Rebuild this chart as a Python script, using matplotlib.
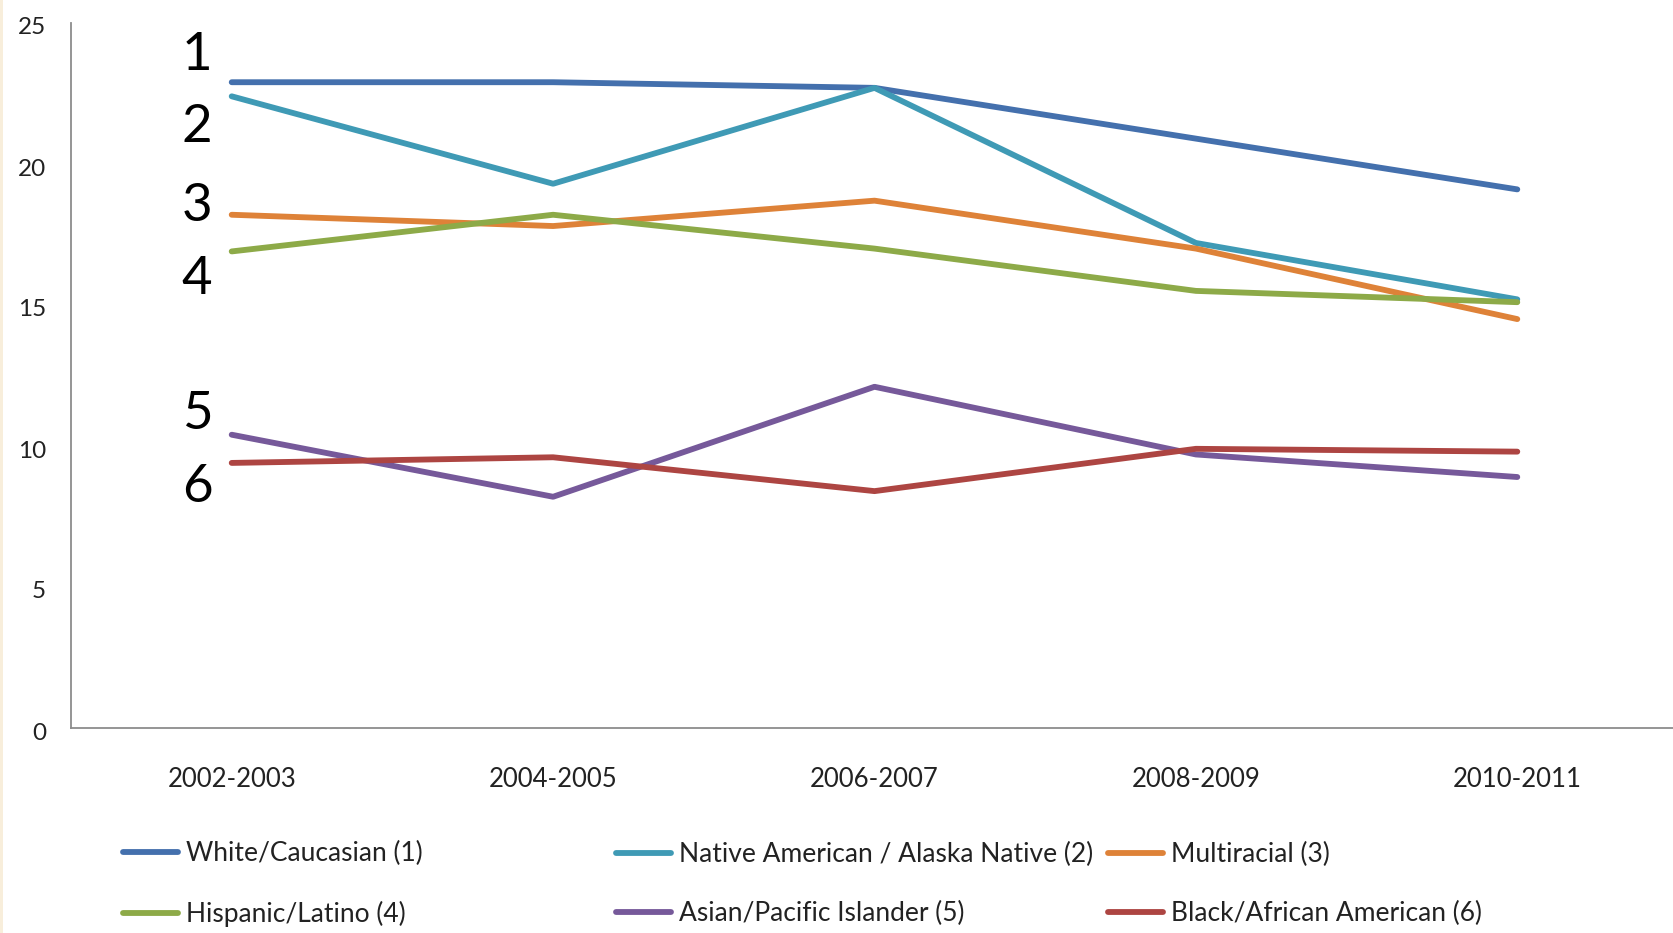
import matplotlib
matplotlib.use("Agg")
import matplotlib.pyplot as plt
import matplotlib.transforms as mtransforms
from matplotlib.patches import Rectangle

plt.rcParams['font.family'] = ['Lato', 'DejaVu Sans']

# Survey periods and values per group
periods = ["2002-2003", "2004-2005", "2006-2007", "2008-2009", "2010-2011"]
white = [22.9, 22.9, 22.7, 20.9, 19.1]
native = [22.4, 19.3, 22.7, 17.2, 15.2]
multiracial = [18.2, 17.8, 18.7, 17.0, 14.5]
hispanic = [16.9, 18.2, 17.0, 15.5, 15.1]
asian = [10.4, 8.2, 12.1, 9.7, 8.9]
black = [9.4, 9.6, 8.4, 9.9, 9.8]

series_names = ["White/Caucasian (1)", "Native American / Alaska Native (2)",
                "Multiracial (3)", "Hispanic/Latino (4)",
                "Asian/Pacific Islander (5)", "Black/African American (6)"]
series_values = [white, native, multiracial, hispanic, asian, black]
colors = ["#4470AD", "#3F9AB5", "#DE8238", "#8DAA48", "#76599A", "#AD4542"]

# Rank markers next to the first period
rank_labels = ["1", "2", "3", "4", "5", "6"]
rank_y = [23.84, 21.29, 18.49, 15.9, 11.12, 8.53]

fig = plt.figure(figsize=(16.74, 9.33), dpi=100)
fig.patch.set_facecolor("white")
fig.patches.append(Rectangle((0, 0), 3 / 1674, 1, transform=fig.transFigure,
                             facecolor="#F8EEDB", edgecolor="none"))

ax = fig.add_axes([71 / 1674, 1 - 728 / 933, 1607 / 1674, 705 / 933])
x = list(range(len(periods)))
lines = []
for name, vals, c in zip(series_names, series_values, colors):
    ln, = ax.plot(x, vals, color=c, lw=4.2, solid_capstyle="round",
                  solid_joinstyle="round", label=name)
    lines.append(ln)

ax.set_xlim(-0.5, len(periods) - 0.5)
ax.set_ylim(0, 25)
ax.set_yticks([0, 5, 10, 15, 20, 25])
ax.set_xticks(x)
ax.set_xticklabels(periods)
ax.tick_params(axis="both", length=0, colors="#222222")
ax.tick_params(axis="y", pad=18, labelsize=17.5)
ax.tick_params(axis="x", pad=28, labelsize=18.5)
offset = mtransforms.ScaledTranslation(0, -3 / 100, fig.dpi_scale_trans)
for lab in ax.get_yticklabels():
    lab.set_transform(lab.get_transform() + offset)

for s in ["top", "right"]:
    ax.spines[s].set_visible(False)
for s in ["left", "bottom"]:
    ax.spines[s].set_color("#8C8C8C")
    ax.spines[s].set_linewidth(1.3)

for lab, yv in zip(rank_labels, rank_y):
    ax.text(-0.108, yv, lab, ha="center", va="center", fontsize=38, color="#000000")

# Legend laid out in three columns
col_x = [123, 616, 1108]
col_items = [(0, 3), (1, 4), (2, 5)]
for cx, (a, b) in zip(col_x, col_items):
    fig.legend(handles=[lines[a], lines[b]], loc="center left",
               bbox_to_anchor=(cx / 1674, 1 - 884 / 933), frameon=False,
               fontsize=19, handlelength=2.1, handletextpad=0.3,
               labelspacing=1.3, borderpad=0, borderaxespad=0,
               labelcolor="#222222")

fig.savefig("out.png", dpi=100)
